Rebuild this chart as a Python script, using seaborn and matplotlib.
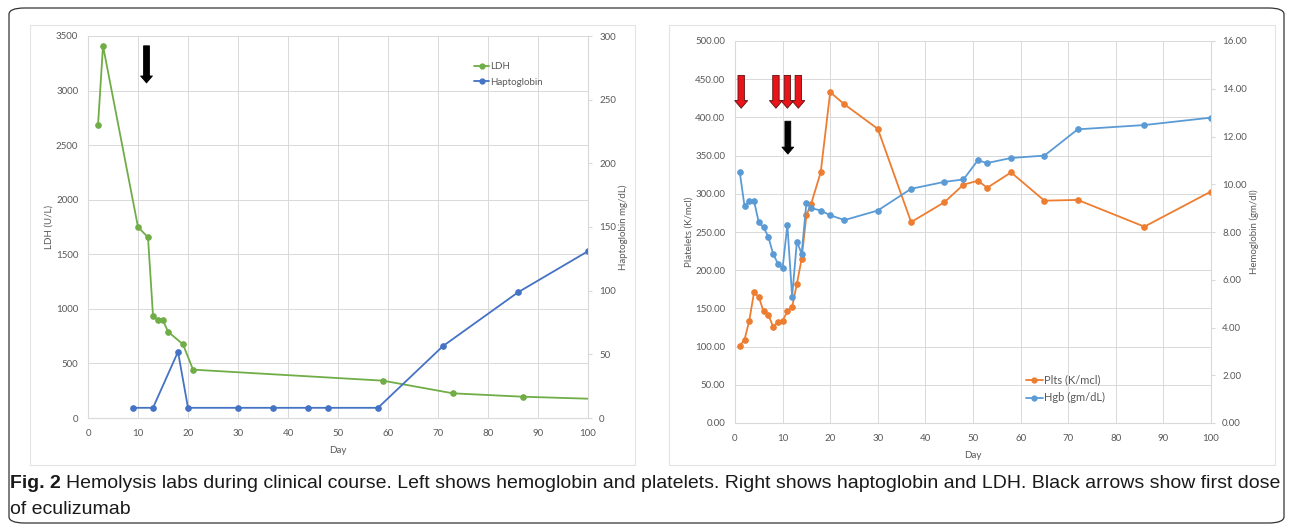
import numpy as np
import pandas as pd
import seaborn as sns
import matplotlib.pyplot as plt
from matplotlib.lines import Line2D
from matplotlib.patches import FancyBboxPatch, Rectangle
from matplotlib import font_manager

# ---- data ----
ldh_day = [2, 3, 10, 12, 13, 14, 15, 16, 19, 21, 59, 73, 87, 107]
ldh_val = [2680, 3410, 1750, 1655, 938, 895, 895, 791, 675, 443, 342, 226, 195, 167]

hapto_day = [9, 13, 18, 20, 30, 37, 44, 48, 58, 71, 86, 100]
hapto_val = [8, 8, 52, 8, 8, 8, 8, 8, 8, 56.5, 98.7, 131]

plt_day = [1, 2, 3, 4, 5, 6, 7, 8, 9, 10, 11, 12, 13, 14, 15, 16, 18, 20, 23, 30,
           37, 44, 48, 51, 53, 58, 65, 72, 86, 100]
plt_val = [101, 109, 134, 171, 165, 146, 142, 126, 132, 134, 146, 152, 182, 215, 272,
           287, 328, 433, 417, 385, 263, 289, 312, 317, 308, 328, 291, 292, 257, 303]

hgb_day = [1, 2, 3, 4, 5, 6, 7, 8, 9, 10, 11, 12, 13, 14, 15, 16, 18, 20, 23, 30,
           37, 44, 48, 51, 53, 58, 65, 72, 86, 100]
hgb_val = [10.5, 9.09, 9.3, 9.3, 8.4, 8.2, 7.8, 7.09, 6.68, 6.49, 8.3, 5.29, 7.6, 7.09,
           9.21, 9.0, 8.9, 8.7, 8.5, 8.9, 9.81, 10.1, 10.2, 11.0, 10.89, 11.1, 11.2,
           12.3, 12.48, 12.79]

# arrows (day, top, tip)
left_black_arrows = [(11.7, 3410, 3070)]
right_red_arrows = [(1.3, 455, 412), (8.6, 455, 412), (11.0, 455, 412), (13.3, 455, 412)]
right_black_arrows = [(11.1, 395, 352)]

GREEN, BLUE, ORANGE, LBLUE = "#70AD47", "#4472C4", "#ED7D31", "#5B9BD5"
GRID = "#d9d9d9"
TXT = "#595959"

sns.set_style("white")
names = {f.name for f in font_manager.fontManager.ttflist}
chart_font = "Lato" if "Lato" in names else "DejaVu Sans"
cap_font = "Liberation Sans Narrow" if "Liberation Sans Narrow" in names else "Liberation Sans"
plt.rcParams['font.family'] = [chart_font, 'DejaVu Sans']

W, H = 1293, 529
fig = plt.figure(figsize=(W / 100, H / 100), dpi=100)


def px_box(x0, y0, x1, y1):
    return [x0 / W, 1 - y1 / H, (x1 - x0) / W, (y1 - y0) / H]


# outer rounded border and panel frames
fig.patches.append(FancyBboxPatch((9 / W, 6 / H), 1275 / W, 515 / H,
                                  boxstyle="round,pad=0,rounding_size=0.012",
                                  transform=fig.transFigure, fill=False,
                                  ec="#333333", lw=0.9))
for (x0, y0, x1, y1) in [(30, 25, 635, 465), (669, 25, 1275, 465)]:
    fig.patches.append(Rectangle((x0 / W, 1 - y1 / H), (x1 - x0) / W, (y1 - y0) / H,
                                 transform=fig.transFigure, fill=False,
                                 ec="#e3e3e3", lw=0.8))


def style_axes(ax, ax2):
    for a in (ax, ax2):
        for s in a.spines.values():
            s.set_visible(False)
        a.tick_params(labelsize=7, colors=TXT, length=0, pad=7)
    ax.spines['bottom'].set_visible(True)
    ax.spines['bottom'].set_color(GRID)
    ax.spines['left'].set_visible(True)
    ax.spines['left'].set_color(GRID)
    ax2.spines['right'].set_visible(True)
    ax2.spines['right'].set_color(GRID)
    ax2.tick_params(axis='y', length=3, color=GRID, direction='out', pad=5)
    ax.tick_params(axis='x', length=3, color=GRID, direction='out', pad=5)
    ax.grid(True, color=GRID, lw=0.7)
    ax2.grid(False)
    ax.set_axisbelow(True)
    ax.set_xlim(0, 100)
    ax.set_xticks(range(0, 101, 10))
    ax.set_xlabel("Day", fontsize=7, color=TXT, labelpad=6)


def draw_arrow(ax, x, top, tip, fc, ec, scale=10):
    ax.annotate("", xy=(x, tip), xytext=(x, top),
                arrowprops=dict(arrowstyle="simple,head_length=0.5,head_width=0.85,tail_width=0.42",
                                fc=fc, ec=ec, lw=0.6, mutation_scale=scale,
                                shrinkA=0, shrinkB=0))


# ---- left panel: LDH / haptoglobin ----
axL = fig.add_axes(px_box(88, 36, 588, 418))
axL2 = axL.twinx()
ldh = pd.DataFrame({"day": ldh_day, "val": ldh_val})
hap = pd.DataFrame({"day": hapto_day, "val": hapto_val})
sns.lineplot(data=ldh, x="day", y="val", ax=axL, color=GREEN, marker="o",
             markersize=4, markeredgecolor=GREEN, lw=1.3)
sns.lineplot(data=hap, x="day", y="val", ax=axL2, color=BLUE, marker="o",
             markersize=4, markeredgecolor=BLUE, lw=1.3)
axL.set_ylim(0, 3500)
axL.set_yticks(range(0, 3501, 500))
axL2.set_ylim(0, 300)
axL2.set_yticks(range(0, 301, 50))
axL.set_ylabel("LDH (U/L)", fontsize=7, color=TXT, labelpad=2)
axL2.set_ylabel("Haptoglobin mg/dL)", fontsize=7, color=TXT, labelpad=2)
style_axes(axL, axL2)
for x, top, tip in left_black_arrows:
    draw_arrow(axL, x, top, tip, "black", "black")
hL = [Line2D([], [], color=GREEN, marker="o", markersize=3.5, lw=1.3),
      Line2D([], [], color=BLUE, marker="o", markersize=3.5, lw=1.3)]
axL2.legend(hL, ["LDH", "Haptoglobin"], loc="upper left", bbox_to_anchor=(0.755, 0.955),
            frameon=False, fontsize=7, handlelength=1.5, handletextpad=0.1,
            labelspacing=0.7, labelcolor=TXT)

# ---- right panel: platelets / hemoglobin ----
axR = fig.add_axes(px_box(735, 41, 1211, 423))
axR2 = axR.twinx()
pl = pd.DataFrame({"day": plt_day, "val": plt_val})
hg = pd.DataFrame({"day": hgb_day, "val": hgb_val})
sns.lineplot(data=pl, x="day", y="val", ax=axR, color=ORANGE, marker="o",
             markersize=4, markeredgecolor=ORANGE, lw=1.3)
sns.lineplot(data=hg, x="day", y="val", ax=axR2, color=LBLUE, marker="o",
             markersize=4, markeredgecolor=LBLUE, lw=1.3)
axR.set_ylim(0, 500)
axR.set_yticks(np.arange(0, 501, 50))
axR.set_yticklabels([f"{v:.2f}" for v in np.arange(0, 501, 50)])
axR2.set_ylim(0, 16)
axR2.set_yticks(np.arange(0, 17, 2))
axR2.set_yticklabels([f"{v:.2f}" for v in np.arange(0, 17, 2)])
axR.set_ylabel("Platelets (K/mcl)", fontsize=7, color=TXT, labelpad=1)
axR2.set_ylabel("Hemoglobin (gm/dl)", fontsize=7, color=TXT, labelpad=2)
style_axes(axR, axR2)
for x, top, tip in right_red_arrows:
    draw_arrow(axR, x, top, tip, "#e8141a", "#5a1010", scale=11)
for x, top, tip in right_black_arrows:
    draw_arrow(axR, x, top, tip, "black", "black")
hR = [Line2D([], [], color=ORANGE, marker="o", markersize=3.5, lw=1.3),
      Line2D([], [], color=LBLUE, marker="o", markersize=3.5, lw=1.3)]
axR2.legend(hR, ["Plts (K/mcl)", "Hgb (gm/dL)"], loc="lower left", bbox_to_anchor=(0.59, 0.025),
            frameon=False, fontsize=8, handlelength=1.5, handletextpad=0.1,
            labelspacing=0.6, labelcolor=TXT)

# ---- caption ----
fig.canvas.draw()
r = fig.canvas.get_renderer()
cap_kw = dict(fontsize=14, color="#1a1a1a", family=[cap_font, "DejaVu Sans"], va="center")
t1 = fig.text(10 / W, 1 - 484 / H, "Fig. 2", fontweight="bold", **cap_kw)
bb = t1.get_window_extent(r)
fig.text((bb.x1 + 5) / W, 1 - 484 / H,
         "Hemolysis labs during clinical course. Left shows hemoglobin and platelets. "
         "Right shows haptoglobin and LDH. Black arrows show first dose", **cap_kw)
fig.text(10 / W, 1 - 510 / H, "of eculizumab", **cap_kw)

fig.savefig("out.png", dpi=100)
